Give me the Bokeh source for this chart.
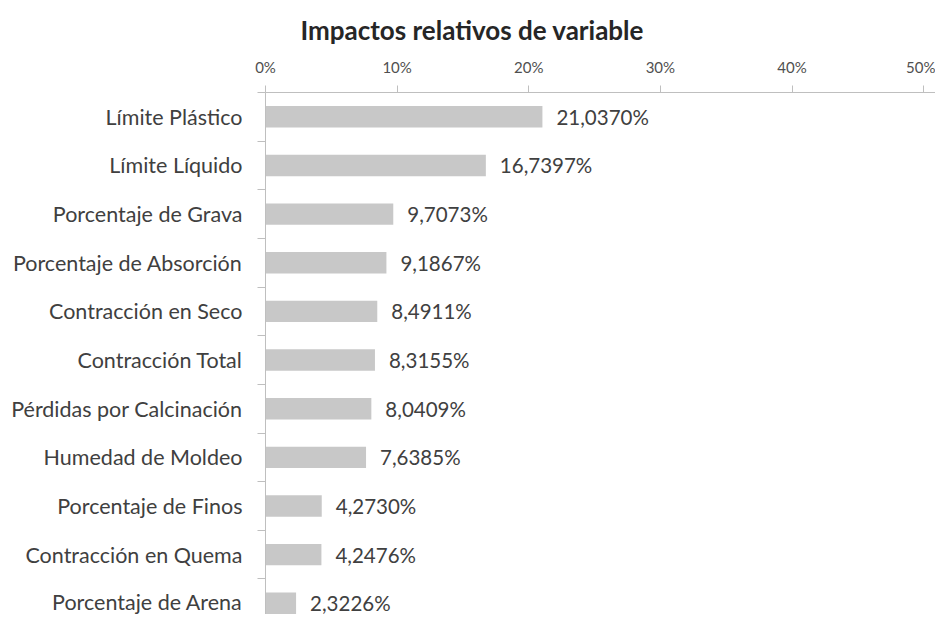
from bokeh.plotting import figure
from bokeh.models import Range1d, FixedTicker, ColumnDataSource, Title
from bokeh.embed import file_html
from bokeh.resources import INLINE
from bokeh.core.properties import value

categories = [
    "Límite Plástico", "Límite Líquido", "Porcentaje de Grava",
    "Porcentaje de Absorción", "Contracción en Seco", "Contracción Total",
    "Pérdidas por Calcinación", "Humedad de Moldeo", "Porcentaje de Finos",
    "Contracción en Quema", "Porcentaje de Arena",
]
impacts = [21.0370, 16.7397, 9.7073, 9.1867, 8.4911, 8.3155,
           8.0409, 7.6385, 4.2730, 4.2476, 2.3226]
x_ticks = [0, 10, 20, 30, 40, 50]
x_tick_labels = ["0%", "10%", "20%", "30%", "40%", "50%"]
title_text = "Impactos relativos de variable"

FONT = "Lato"
TXT = "#404040"
AX = "#bfbfbf"

pos = list(range(len(categories)))
labels = [f"{v:.4f}".replace(".", ",") + "%" for v in impacts]
src = ColumnDataSource(dict(y=pos, v=impacts, lab=labels))

p = figure(width=935, height=614, output_backend="svg", toolbar_location=None,
           x_range=Range1d(0, 50.9), y_range=Range1d(10.23, -0.5),
           x_axis_location="above", min_border_left=265, min_border_right=0,
           min_border_top=92, min_border_bottom=0)
p.title = Title(text=title_text, align="left", offset=35, text_font=FONT,
                text_font_size="26px", text_font_style="bold", text_color="#262626",
                standoff=17)
p.outline_line_color = None
p.grid.visible = False
p.background_fill_color = "white"
p.border_fill_color = "white"

p.hbar(y="y", left=0, right="v", height=0.44, source=src,
       fill_color="#c8c8c8", line_color=None)
p.text(x="v", y="y", text="lab", source=src, x_offset=14,
       text_baseline="middle", text_align="left", text_font=value(FONT),
       text_font_size="20.5px", text_color=TXT)

xa = p.xaxis[0]
xa.ticker = FixedTicker(ticks=x_ticks, minor_ticks=[])
xa.major_label_overrides = {t: l for t, l in zip(x_ticks, x_tick_labels)}
xa.axis_line_color = AX
xa.major_tick_line_color = AX
xa.major_tick_out = 7
xa.major_tick_in = 0
xa.minor_tick_line_color = None
xa.major_label_text_font = FONT
xa.major_label_text_font_size = "15px"
xa.major_label_text_color = "#505050"
xa.major_label_standoff = 10

ya = p.yaxis[0]
ya.ticker = FixedTicker(ticks=pos, minor_ticks=[i - 0.5 for i in range(len(categories) + 1)])
ya.major_label_overrides = {i: c for i, c in zip(pos, categories)}
ya.axis_line_color = AX
ya.major_tick_line_color = None
ya.minor_tick_line_color = AX
ya.minor_tick_out = 8
ya.minor_tick_in = 0
ya.major_label_text_font = FONT
ya.major_label_text_font_size = "21.5px"
ya.major_label_text_color = TXT
ya.major_label_standoff = 15

open("out.html", "w").write(file_html(p, INLINE))
